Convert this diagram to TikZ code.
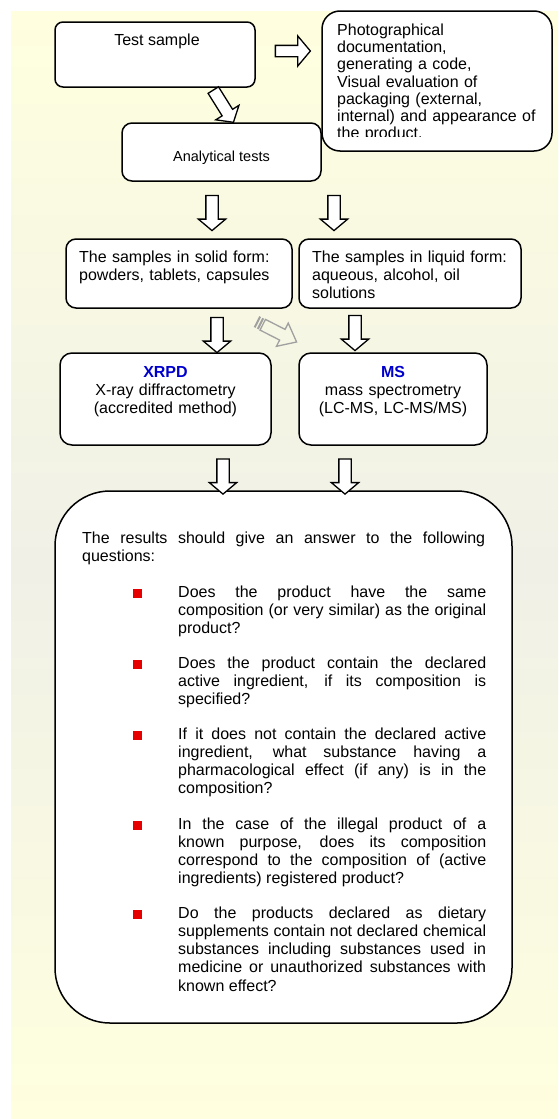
\documentclass[tikz,border=0pt]{standalone}
\usepackage{fontspec}
\setmainfont{Liberation Sans}
\usetikzlibrary{shapes.arrows}
\definecolor{bgyellow}{RGB}{255,255,223}
\definecolor{bggray}{RGB}{240,240,231}
\definecolor{headblue}{RGB}{0,0,204}
\definecolor{bulletred}{RGB}{230,0,0}
\definecolor{ghost}{RGB}{160,160,160}

\begin{document}
\begin{tikzpicture}[x=1pt,y=-1pt,
  box/.style={draw=black, line width=1.5pt, fill=white, rectangle, inner sep=0pt},
  blockarrow/.style={single arrow, draw=black, line width=1.3pt, fill=white,
    inner xsep=0pt, inner ysep=5.5pt, single arrow tip angle=100,
    single arrow head extend=7.5pt, minimum height=35pt},
  txt/.style={inner sep=0pt, font=\fontsize{16}{18.3}\selectfont},
  item/.style={txt, text width=308pt, align=justify, anchor=base west},
  bullet/.style={fill=bulletred, inner sep=0pt, minimum size=9pt}
]
\useasboundingbox (0,0) rectangle (558,1119);
\fill[top color=bgyellow, bottom color=bgyellow, middle color=bggray]
  (11,11) rectangle (558,1119);

% boxes
\node[box, rounded corners=8pt, minimum width=200pt, minimum height=65pt] (test) at (155,54.5) {};
\node[box, rounded corners=10pt, minimum width=199pt, minimum height=58pt] (anal) at (221.5,152) {};
\node[box, rounded corners=18pt, minimum width=230pt, minimum height=140pt] (photo) at (437,81) {};
\node[box, rounded corners=10pt, minimum width=226pt, minimum height=69pt] (solid) at (179,273.5) {};
\node[box, rounded corners=10pt, minimum width=222pt, minimum height=69pt] (liquid) at (410,273.5) {};
\node[box, rounded corners=12pt, minimum width=211pt, minimum height=92pt] (xrpd) at (165.5,399) {};
\node[box, rounded corners=12pt, minimum width=188pt, minimum height=92pt] (ms) at (393,399) {};
\node[box, rounded corners=55pt, minimum width=457pt, minimum height=532pt] (results) at (283.5,757) {};

% box texts
\node[txt, anchor=base] (ttest) at (157,45.5) {Test sample};
\node[txt, font=\fontsize{14.5}{16}\selectfont, anchor=base] (tanal) at (221.5,161.5) {Analytical tests};
\begin{scope}
  \clip (322,11) rectangle (552,136.5);
  \node[txt, font=\fontsize{16}{17.2}\selectfont, text width=215pt, align=left, anchor=base west]
    (tphoto) at (337,35.5) {Photographical\\documentation,\\generating a code,\\Visual evaluation of\\packaging (external,\\internal) and appearance of\\the product.};
\end{scope}
\node[txt, text width=210pt, align=left, anchor=base west] (tsolid) at (79,262)
  {The samples in solid form:\\powders, tablets, capsules};
\node[txt, text width=205pt, align=left, anchor=base west] (tliquid) at (312,262)
  {The samples in liquid form:\\aqueous, alcohol, oil\\solutions};
\node[txt, font=\fontsize{16}{18}\selectfont, text width=205pt, align=center, anchor=base] (txrpd) at (165.5,377)
  {\textbf{\color{headblue}XRPD}\\X-ray diffractometry\\(accredited method)};
\node[txt, font=\fontsize{16}{18}\selectfont, text width=185pt, align=center, anchor=base] (tms) at (393,377)
  {\textbf{\color{headblue}MS}\\mass spectrometry\\(LC-MS, LC-MS/MS)};

% questions
\node[txt, text width=403pt, align=justify, anchor=base west] (tintro) at (82,543)
  {The results should give an answer to the following\linebreak questions:};
\node[bullet] (b1) at (137,593) {};
\node[item] (q1) at (178,597)
  {Does the product have the same\linebreak composition (or very similar) as the original\linebreak product?};
\node[bullet] (b2) at (137,664) {};
\node[item] (q2) at (178,668)
  {Does the product contain the declared\linebreak active ingredient, if its composition is\linebreak specified?};
\node[bullet] (b3) at (137,735) {};
\node[item] (q3) at (178,739)
  {If it does not contain the declared active\linebreak ingredient, what substance having a\linebreak pharmacological effect (if any) is in the\linebreak composition?};
\node[bullet] (b4) at (137,825) {};
\node[item] (q4) at (178,829)
  {In the case of the illegal product of a\linebreak known purpose, does its composition\linebreak correspond to the composition of (active\linebreak ingredients) registered product?};
\node[bullet] (b5) at (137,914) {};
\node[item] (q5) at (178,918)
  {Do the products declared as dietary\linebreak supplements contain not declared chemical\linebreak substances including substances used in\linebreak medicine or unauthorized substances with\linebreak known effect?};

% block arrows
\node[blockarrow, inner ysep=5pt, single arrow head extend=9.5pt] (a0) at (290.5,51) {};
\node[blockarrow, rotate=-58, minimum height=38pt] (a1) at (222,104) {};
\node[blockarrow, rotate=-90] (a2) at (212,210.5) {};
\node[blockarrow, rotate=-90] (a3) at (334,210.5) {};
\node[blockarrow, rotate=-90] (a4) at (217,332.5) {};
\node[blockarrow, rotate=-90] (a5) at (355,330.5) {};
\node[blockarrow, rotate=-90] (a6) at (223,474) {};
\node[blockarrow, rotate=-90] (a7) at (345,474) {};

% striped grey arrow between the sample boxes and the methods
\begin{scope}[shift={(277,332)}, rotate=-27, line width=1.3pt]
  \fill[ghost] (-23,-6) rectangle (-21,6);
  \fill[ghost] (-19.5,-6) rectangle (-17.5,6);
  \draw[ghost] (-16,-6) -- (6,-6) -- (6,-13) -- (22,0) -- (6,13) -- (6,6) -- (-16,6) -- cycle;
\end{scope}
\end{tikzpicture}
\end{document}
